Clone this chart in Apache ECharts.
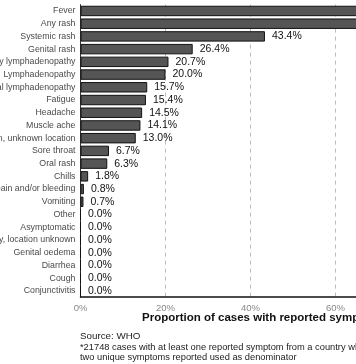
<!DOCTYPE html>
<html>
<head>
<meta charset="utf-8">
<script src="https://cdn.jsdelivr.net/npm/echarts@6/dist/echarts.min.js"></script>
<style>
html,body{margin:0;padding:0;overflow:hidden;background:#fff;}
#chart{position:absolute;left:0;top:0;width:600px;height:364px;}
</style>
</head>
<body>
<div id="chart"></div>
<script>
const categories = [
  "Fever", "Any rash", "Systemic rash", "Genital rash", "Axillary lymphadenopathy",
  "Lymphadenopathy", "Inguinal lymphadenopathy", "Fatigue", "Headache", "Muscle ache",
  "Lesion, unknown location", "Sore throat", "Oral rash", "Chills",
  "Rectal pain and/or bleeding", "Vomiting", "Other", "Asymptomatic",
  "Lymphadenopathy, location unknown", "Genital oedema", "Diarrhea", "Cough", "Conjunctivitis"
];
const values = [
  71.2, 68.9, 43.4, 26.4, 20.7,
  20.0, 15.7, 15.4, 14.5, 14.1,
  13.0, 6.7, 6.3, 1.8,
  0.8, 0.7, 0.0, 0.0,
  0.0, 0.0, 0.0, 0.0, 0.0
];
const xTicks = { min: 0, max: 100, interval: 20 };
const axisTitle = "Proportion of cases with reported symptoms*";
const sourceLines = [
  "Source: WHO",
  "*21748 cases with at least one reported symptom from a country which reported at least",
  "two unique symptoms reported used as denominator"
];

const chart = echarts.init(document.getElementById('chart'), null, {renderer: 'canvas'});
const font = 'Liberation Sans, Arial, Helvetica, sans-serif';
chart.setOption({
  animation: false,
  textStyle: { fontFamily: font },
  grid: { left: 80.5, top: 4.6, width: 425, height: 292.6, containLabel: false, outerBoundsMode: 'none' },
  xAxis: {
    type: 'value', min: xTicks.min, max: xTicks.max, interval: xTicks.interval,
    axisLine: { show: true, lineStyle: { color: '#111', width: 1.5 } },
    axisTick: { show: false },
    axisLabel: { formatter: '{value}%', color: '#888', fontSize: 9.5, margin: 6, fontFamily: font },
    splitLine: { show: true, lineStyle: { color: '#bbb', type: [4, 4], width: 1 } }
  },
  yAxis: {
    type: 'category', inverse: true, data: categories,
    axisLine: { show: true, lineStyle: { color: '#333', width: 1 } },
    axisTick: { show: false },
    axisLabel: { interval: 0, color: '#4a4a4a', fontSize: 8.8, margin: 5, fontFamily: font },
    splitLine: { show: false }
  },
  series: [{
    type: 'bar', data: values, barCategoryGap: '18%',
    itemStyle: { color: '#555555', borderColor: '#111', borderWidth: 1 },
    label: {
      show: true, position: 'right', distance: 7, color: '#111', fontSize: 10.5, fontFamily: font,
      formatter: p => p.value.toFixed(1) + '%'
    }
  }],
  graphic: [
    { type: 'text', left: 142, top: 312, style: { text: axisTitle, font: 'bold 11.5px ' + font, fill: '#111' } },
    { type: 'text', left: 80, top: 331, style: { text: sourceLines[0], font: '9.8px ' + font, fill: '#222' } },
    { type: 'text', left: 80, top: 342.5, style: { text: sourceLines[1], font: '9.3px ' + font, fill: '#222' } },
    { type: 'text', left: 80, top: 352.5, style: { text: sourceLines[2], font: '9.3px ' + font, fill: '#222' } }
  ]
});
</script>
</body>
</html>
